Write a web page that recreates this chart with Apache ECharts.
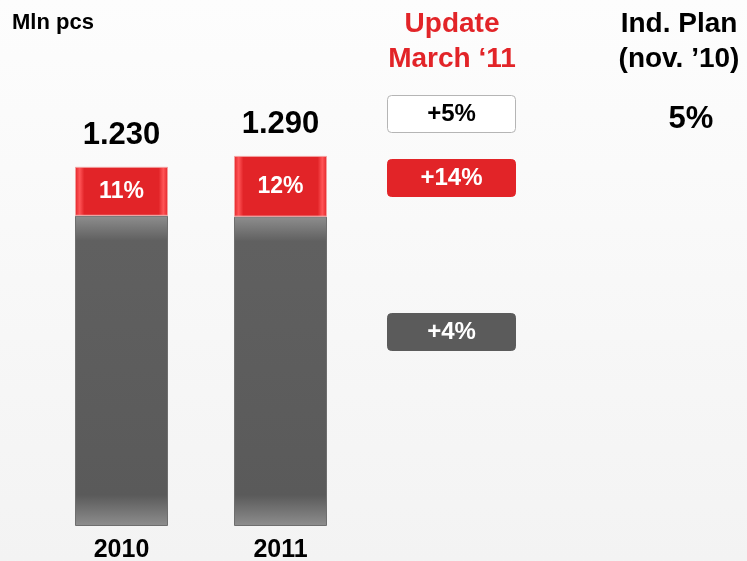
<!DOCTYPE html>
<html>
<head>
<meta charset="utf-8">
<script src="https://cdn.jsdelivr.net/npm/echarts@6/dist/echarts.min.js"></script>
<style>
    html, body { margin: 0; padding: 0; background: #f6f6f6; }
    #chart { width: 747px; height: 561px; }
</style>
</head>
<body>
<div id="chart"></div>
<script>
    // data (bar heights as drawn, labels as printed)
    const years = ['2010', '2011']
    const baseValues = [1078, 1075]
    const topValues = [170, 211]
    const totalLabels = ['1.230', '1.290']
    const shareLabels = ['11%', '12%']
    const updateLabels = ['+5%', '+14%', '+4%']
    const planLabels = ['5%']

    const font = '"Liberation Sans", Arial, sans-serif'
    const chart = echarts.init(document.getElementById('chart'))

    const box = (y, text, fill, stroke, textColor) => ({
        type: 'group',
        left: 387,
        top: y,
        children: [{
            type: 'rect',
            shape: { x: 0, y: 0, width: 128, height: 37, r: 4 },
            style: { fill: fill, stroke: stroke, lineWidth: 1 }
        }, {
            type: 'text',
            x: 64,
            y: 19,
            style: {
                text: text, fill: textColor, font: 'bold 24px ' + font,
                align: 'center', verticalAlign: 'middle'
            }
        }]
    })

    let option = {
        backgroundColor: new echarts.graphic.LinearGradient(0, 0, 0, 1, [
            { offset: 0, color: '#fdfdfd' },
            { offset: 1, color: '#f3f3f3' }
        ]),
        animation: false,
        grid: { left: 42, width: 318, top: 8, bottom: 35, outerBoundsMode: 'none', containLabel: false },
        xAxis: {
            type: 'category',
            data: years,
            axisLine: { show: false },
            axisTick: { show: false },
            axisLabel: {
                color: '#000', fontSize: 25, fontWeight: 'bold', fontFamily: font, margin: 12
            }
        },
        yAxis: {
            type: 'value',
            min: 0,
            max: 1800,
            show: false,
            splitLine: { show: false }
        },
        series: [
            {
                type: 'bar',
                stack: 'all',
                barWidth: 93,
                data: baseValues,
                itemStyle: {
                    color: new echarts.graphic.LinearGradient(0, 0, 0, 1, [
                        { offset: 0, color: '#8e8e8e' },
                        { offset: 0.08, color: '#606060' },
                        { offset: 0.9, color: '#5a5a5a' },
                        { offset: 1, color: '#8e8e8e' }
                    ]),
                    borderColor: '#6e6e6e',
                    borderWidth: 1
                }
            },
            {
                type: 'bar',
                stack: 'all',
                barWidth: 93,
                data: topValues,
                itemStyle: {
                    color: new echarts.graphic.LinearGradient(0, 0, 1, 0, [
                        { offset: 0, color: '#e22428' },
                        { offset: 0.05, color: '#ff5557' },
                        { offset: 0.1, color: '#e22428' },
                        { offset: 0.9, color: '#e22428' },
                        { offset: 0.95, color: '#ff5557' },
                        { offset: 1, color: '#e22428' }
                    ]),
                    borderColor: '#f3a0a0',
                    borderWidth: 1
                },
                label: {
                    show: true,
                    position: 'inside',
                    formatter: p => shareLabels[p.dataIndex],
                    color: '#fff',
                    fontSize: 23,
                    fontWeight: 'bold',
                    fontFamily: font
                }
            },
            {
                type: 'scatter',
                data: baseValues.map((v, i) => v + topValues[i]),
                symbolSize: 1,
                itemStyle: { opacity: 0 },
                label: {
                    show: true,
                    position: 'top',
                    distance: 15,
                    formatter: p => totalLabels[p.dataIndex],
                    color: '#000',
                    opacity: 1,
                    fontSize: 31,
                    fontWeight: 'bold',
                    fontFamily: font
                }
            }
        ],
        graphic: [
            {
                type: 'text', left: 12, top: 12,
                style: { text: 'Mln pcs', fill: '#000', font: 'bold 22px ' + font }
            },
            {
                type: 'text', x: 452, y: 7,
                style: {
                    text: 'Update\nMarch ‘11', fill: '#e22428', font: 'bold 28px ' + font,
                    align: 'center', lineHeight: 35
                }
            },
            {
                type: 'text', x: 679, y: 7,
                style: {
                    text: 'Ind. Plan\n(nov. ’10)', fill: '#000', font: 'bold 28px ' + font,
                    align: 'center', lineHeight: 35
                }
            },
            box(95, updateLabels[0], '#ffffff', '#b5b5b5', '#000'),
            box(159, updateLabels[1], '#e22428', '#e22428', '#fff'),
            box(313, updateLabels[2], '#5b5b5b', '#5b5b5b', '#fff'),
            {
                type: 'text', x: 691, y: 119,
                style: {
                    text: planLabels[0], fill: '#000', font: 'bold 31px ' + font,
                    align: 'center', verticalAlign: 'middle'
                }
            }
        ]
    }
    chart.setOption(option)
</script>
</body>
</html>
